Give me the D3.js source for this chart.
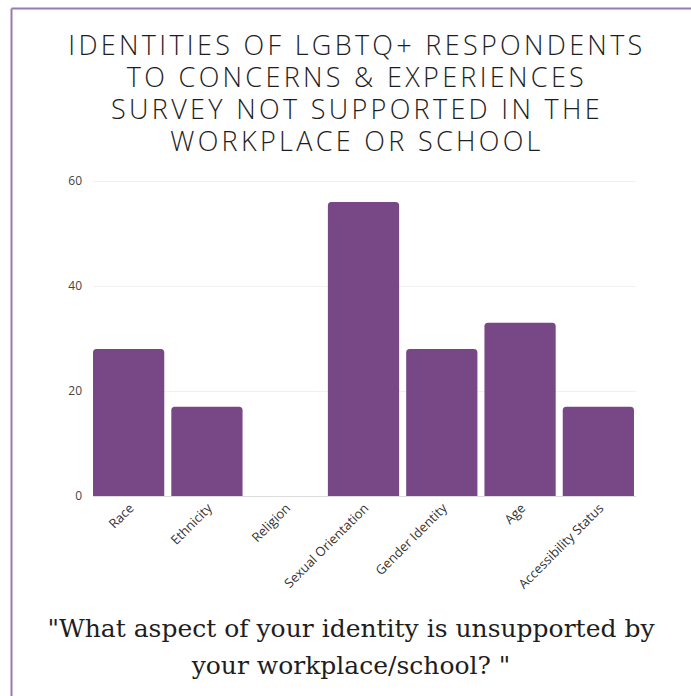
<!DOCTYPE html>
<html>
<head>
<meta charset="utf-8">
<script src="https://cdn.jsdelivr.net/npm/d3@7"></script>
<style>
  html, body { margin: 0; padding: 0; background: #ffffff; }
  svg { display: block; }
</style>
</head>
<body>
<svg id="chart" width="691" height="696"></svg>
<script>
// Survey responses: identity aspects reported as unsupported
const categories = ["Race", "Ethnicity", "Religion", "Sexual Orientation", "Gender Identity", "Age", "Accessibility Status"];
const counts = [28, 17, 0, 56, 28, 33, 17];
const yTicks = [0, 20, 40, 60];
const titleLines = [
  "IDENTITIES OF LGBTQ+ RESPONDENTS",
  "TO CONCERNS & EXPERIENCES",
  "SURVEY NOT SUPPORTED IN THE",
  "WORKPLACE OR SCHOOL"
];
const questionLines = [
  "\"What aspect of your identity is unsupported by",
  "your workplace/school? \""
];

const svg = d3.select("#chart");
const W = 691, H = 696;
const barColor = "#784786";

// Frame lines along the top and left edge
svg.append("line").attr("x1", 11.5).attr("y1", 8.5).attr("x2", W).attr("y2", 8.5)
  .attr("stroke", "#9a78b3").attr("stroke-width", 2);
svg.append("line").attr("x1", 11.5).attr("y1", 8.5).attr("x2", 11.5).attr("y2", H)
  .attr("stroke", "#9a78b3").attr("stroke-width", 2);

// Title: wide, light capitals in one text block
const title = svg.append("text")
  .attr("text-anchor", "middle")
  .attr("font-family", "'Open Sans', Lato, sans-serif")
  .attr("font-weight", 300)
  .attr("font-size", 27)
  .attr("fill", "#1e1e1e");
const tspans = title.selectAll("tspan").data(titleLines).join("tspan")
  .attr("x", 357).attr("y", (d, i) => 55 + i * 32)
  .text(d => d);
// spread letters so the first line spans ~574px
const firstW = tspans.nodes()[0].getComputedTextLength();
const ls = Math.max(0, (574 - firstW) / (titleLines[0].length - 1));
title.attr("letter-spacing", ls);

// Scales
const x = d3.scaleBand().domain(categories).range([89.5, 637.5])
  .paddingInner(0.09).paddingOuter(0.045);
const y = d3.scaleLinear().domain([0, 60]).range([496, 181]);

// Gridlines
svg.append("g").selectAll("line").data(yTicks.filter(t => t > 0)).join("line")
  .attr("x1", 93).attr("x2", 636)
  .attr("y1", d => y(d) + 0.5).attr("y2", d => y(d) + 0.5)
  .attr("stroke", "#f0f0f0").attr("stroke-width", 1);

// Y axis labels
const yAxis = d3.axisLeft(y).tickValues(yTicks).tickSize(0).tickPadding(0);
const gy = svg.append("g").attr("transform", "translate(82,0)").call(yAxis);
gy.select(".domain").remove();
gy.selectAll("text")
  .attr("font-family", "'Open Sans', sans-serif")
  .attr("font-size", 12)
  .attr("fill", "#444");

// Bars with rounded top corners
const r = 3.5;
function barPath(d, i) {
  const x0 = x(categories[i]), w = x.bandwidth();
  const y0 = y(d), y1 = y(0);
  if (y1 - y0 <= 0) return "";
  const rr = Math.min(r, (y1 - y0));
  return `M${x0},${y1}V${y0 + rr}Q${x0},${y0} ${x0 + rr},${y0}H${x0 + w - rr}Q${x0 + w},${y0} ${x0 + w},${y0 + rr}V${y1}Z`;
}
svg.append("g").selectAll("path").data(counts).join("path")
  .attr("d", barPath)
  .attr("fill", barColor);

// Baseline
svg.append("line").attr("x1", 93).attr("x2", 636)
  .attr("y1", y(0) + 0.5).attr("y2", y(0) + 0.5)
  .attr("stroke", "#dcdcdc").attr("stroke-width", 1);

// X axis labels, rotated
const xAxis = d3.axisBottom(x).tickSize(0).tickPadding(0);
const gx = svg.append("g").attr("transform", `translate(0,${y(0)})`).call(xAxis);
gx.select(".domain").remove();
gx.selectAll("text")
  .attr("font-family", "'Open Sans', sans-serif")
  .attr("font-size", 13)
  .attr("fill", "#333")
  .attr("text-anchor", "end")
  .attr("dy", 0)
  .attr("y", 0)
  .attr("transform", "translate(6,13) rotate(-45)");

// Question text
svg.append("text")
  .attr("text-anchor", "middle")
  .attr("font-family", "'DejaVu Serif', 'Liberation Serif', serif")
  .attr("font-size", 25)
  .attr("fill", "#1e1e1e")
  .selectAll("tspan").data(questionLines).join("tspan")
  .attr("x", 351).attr("y", (d, i) => 637 + i * 37)
  .text(d => d);
</script>
</body>
</html>
